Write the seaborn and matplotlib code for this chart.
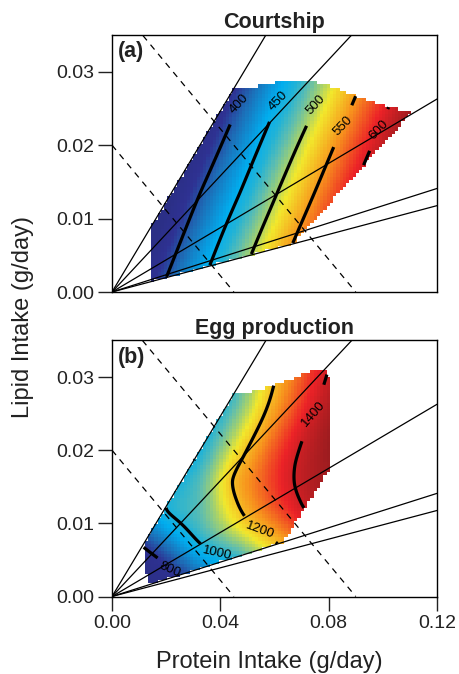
import numpy as np
import pandas as pd
import matplotlib
matplotlib.use("Agg")
import matplotlib.pyplot as plt
import seaborn as sns
from matplotlib.path import Path
from matplotlib.colors import LinearSegmentedColormap, Normalize

# ---------------- values ----------------
x_ticks = [0.00, 0.04, 0.08, 0.12]
x_tick_labels = ["0.00", "0.04", "0.08", "0.12"]
y_ticks = [0.00, 0.01, 0.02, 0.03]
y_tick_labels = ["0.00", "0.01", "0.02", "0.03"]
x_limits = [0.0, 0.12]
y_limits = [0.0, 0.035]

panel_titles = ["Courtship", "Egg production"]
panel_tags = ["(a)", "(b)"]
x_label = "Protein Intake (g/day)"
y_label = "Lipid Intake (g/day)"

# diet rails (lipid : protein ratio) and isocaloric lines (kcal/day)
rail_slopes = [0.616, 0.3955, 0.219, 0.1175, 0.098]
iso_kcal = [0.18, 0.36]
kcal_protein = 4.0
kcal_lipid = 9.0

# (a) Courtship: readings of the surface (contour crossings + colour readings)
court_levels = [400, 450, 500, 550, 600]
court_obs_level = [400, 400, 400, 450, 450, 450, 500, 500, 500,
                   550, 550, 550, 600, 600, 368, 630]
court_obs_protein = [0.0202, 0.0325, 0.0448, 0.0362, 0.0473, 0.0596, 0.0516, 0.0620, 0.0737,
                     0.0670, 0.0743, 0.0830, 0.0928, 0.1020, 0.0140, 0.1105]
court_obs_lipid = [0.0021, 0.0135, 0.0238, 0.0037, 0.0135, 0.0245, 0.0053, 0.0144, 0.0240,
                   0.0069, 0.0131, 0.0208, 0.0172, 0.0252, 0.0050, 0.0245]
court_hull_protein = [0.0140, 0.0140, 0.0448, 0.0510, 0.0600, 0.0682, 0.0780, 0.0891, 0.1014, 0.1107, 0.0670]
court_hull_lipid = [0.0014, 0.0086, 0.0276, 0.0278, 0.0285, 0.0288, 0.0284, 0.0268, 0.0253, 0.0245, 0.0066]
court_label_protein = [0.0473, 0.0614, 0.0750, 0.0848, 0.0983]
court_label_lipid = [0.0254, 0.0261, 0.0256, 0.0229, 0.0222]
court_range = [365, 632]

# (b) Egg production
egg_levels = [800, 1000, 1200, 1400]
egg_obs_level = [800, 800, 800,
                 1000, 1000, 1000, 1000,
                 1200, 1200, 1200, 1200, 1200, 1200, 1200,
                 1400, 1400, 1400, 1400, 1400, 1400, 1400,
                 750, 1040, 1030, 1465, 1300, 1300, 1050]
egg_obs_protein = [0.0116, 0.0175, 0.0263,
                   0.0196, 0.0325, 0.0387, 0.0454,
                   0.0596, 0.0485, 0.0442, 0.0460, 0.0497, 0.0546, 0.0620,
                   0.0793, 0.0743, 0.0706, 0.0676, 0.0673, 0.0694, 0.0712,
                   0.0130, 0.0450, 0.0340, 0.0805, 0.0650, 0.0560, 0.0325]
egg_obs_lipid = [0.0068, 0.0052, 0.0021,
                 0.0118, 0.0072, 0.0058, 0.0049,
                 0.0287, 0.0191, 0.0159, 0.0132, 0.0106, 0.0090, 0.0070,
                 0.0303, 0.0250, 0.0218, 0.0182, 0.0154, 0.0132, 0.0118,
                 0.0020, 0.0270, 0.0186, 0.0175, 0.0250, 0.0150, 0.0132]
egg_hull_protein = [0.0134, 0.0116, 0.0116, 0.0448, 0.0534, 0.0620, 0.0719, 0.0785, 0.0800, 0.0805, 0.0706, 0.0632]
egg_hull_lipid = [0.0016, 0.0049, 0.0071, 0.0276, 0.0282, 0.0291, 0.0306, 0.0312, 0.0300, 0.0175, 0.0118, 0.0074]
egg_label_protein = [0.0214, 0.0387, 0.0546, 0.0743]
egg_label_lipid = [0.0040, 0.0058, 0.0090, 0.0250]
egg_range = [740, 1470]

surface_colors = ["#2b2f86", "#2e3192", "#1d6db6", "#00aeef", "#23b3d6",
                  "#5dbdb0", "#a8d26a", "#f2e82c", "#f7941d", "#ec2227", "#9b1c1f"]
surface_stops = [0.0, 0.08, 0.17, 0.30, 0.37, 0.43, 0.50, 0.56, 0.70, 0.85, 1.0]

# ---------------- style ----------------
sns.set_theme(style="ticks")
plt.rcParams["font.family"] = ["Liberation Sans", "DejaVu Sans"]
plt.rcParams["axes.linewidth"] = 1.0

cmap = LinearSegmentedColormap.from_list("surf", list(zip(surface_stops, surface_colors)))


def to_plane(x, y):
    # isotropic coordinates on the page (units of 100 px)
    return np.asarray(x) / 0.12 * 3.25, np.asarray(y) / 0.035 * 2.56


def tps_kernel(r):
    with np.errstate(divide="ignore", invalid="ignore"):
        k = r * r * np.log(r)
    return np.where(r > 0, k, 0.0)


def fit_surface(px, py, val, smooth):
    u, v = to_plane(px, py)
    n = len(u)
    r = np.hypot(u[:, None] - u[None, :], v[:, None] - v[None, :])
    K = tps_kernel(r) + smooth * np.eye(n)
    P = np.column_stack([np.ones(n), u, v])
    A = np.zeros((n + 3, n + 3))
    A[:n, :n] = K
    A[:n, n:] = P
    A[n:, :n] = P.T
    b = np.concatenate([np.asarray(val, float), np.zeros(3)])
    sol = np.linalg.solve(A, b)
    w, a = sol[:n], sol[n:]

    def surf(X, Y):
        U, V = to_plane(X, Y)
        rr = np.hypot(U[..., None] - u, V[..., None] - v)
        return tps_kernel(rr) @ w + a[0] + a[1] * U + a[2] * V
    return surf


def draw_panel(ax, title, tag, surf, hull_x, hull_y, levels, lab_x, lab_y, vrange, show_x):
    hull = Path(np.column_stack([hull_x, hull_y]))
    norm = Normalize(vmin=vrange[0], vmax=vrange[1])

    xe = np.linspace(x_limits[0], x_limits[1], 101)
    ye = np.linspace(y_limits[0], y_limits[1], 79)
    xm, ym = np.meshgrid((xe[:-1] + xe[1:]) / 2, (ye[:-1] + ye[1:]) / 2)
    inside = hull.contains_points(np.column_stack([xm.ravel(), ym.ravel()])).reshape(xm.shape)
    Z = np.ma.array(surf(xm, ym), mask=~inside)
    ax.pcolormesh(xe, ye, Z, cmap=cmap, norm=norm, shading="flat",
                  antialiased=False, edgecolors="none", zorder=1, rasterized=True)

    rails = pd.DataFrame({
        "protein": np.repeat([0.0, x_limits[1]], len(rail_slopes)),
        "lipid": np.concatenate([np.zeros(len(rail_slopes)), x_limits[1] * np.array(rail_slopes)]),
        "rail": np.tile(np.arange(len(rail_slopes)), 2),
    })
    sns.lineplot(data=rails, x="protein", y="lipid", units="rail", estimator=None,
                 color="black", lw=0.9, ax=ax, legend=False, zorder=2)
    iso = pd.DataFrame({
        "protein": np.concatenate([np.array(iso_kcal) / kcal_protein, np.zeros(len(iso_kcal))]),
        "lipid": np.concatenate([np.zeros(len(iso_kcal)), np.array(iso_kcal) / kcal_lipid]),
        "line": np.tile(np.arange(len(iso_kcal)), 2),
    })
    sns.lineplot(data=iso, x="protein", y="lipid", units="line", estimator=None,
                 color="black", lw=0.9, linestyle=(0, (5, 4.5)), ax=ax, legend=False, zorder=2)

    xc = np.linspace(x_limits[0], x_limits[1], 361)
    yc = np.linspace(y_limits[0], y_limits[1], 211)
    Xc, Yc = np.meshgrid(xc, yc)
    ins = hull.contains_points(np.column_stack([Xc.ravel(), Yc.ravel()])).reshape(Xc.shape)
    Zc = np.ma.array(surf(Xc, Yc), mask=~ins)
    cs = ax.contour(Xc, Yc, Zc, levels=levels, colors="black", linewidths=2.3, zorder=3)
    ax.clabel(cs, levels, inline=True, fmt="%d", fontsize=9.5, inline_spacing=2,
              manual=list(zip(lab_x, lab_y)))

    ax.set_xlim(*x_limits)
    ax.set_ylim(*y_limits)
    ax.set_xticks(x_ticks)
    ax.set_yticks(y_ticks)
    ax.set_yticklabels(y_tick_labels)
    if show_x:
        ax.set_xticklabels(x_tick_labels)
    else:
        ax.set_xticklabels([])
        ax.tick_params(axis="x", bottom=False, labelbottom=False)
    ax.set_xlabel("")
    ax.set_ylabel("")
    ax.tick_params(direction="out", length=10, width=1.0, labelsize=14,
                   colors="#222222", pad=3)
    for sp in ax.spines.values():
        sp.set_color("black")
        sp.set_linewidth(1.0)
        sp.set_visible(True)
    ax.set_title(title, fontsize=15.5, fontweight="bold", pad=5, color="#222222")
    ax.text(0.018, 0.975, tag, transform=ax.transAxes, ha="left", va="top",
            fontsize=15.5, fontweight="bold", color="#222222", zorder=5)


fig = plt.figure(figsize=(4.59, 6.74), dpi=100)
ax_a = fig.add_axes([112 / 459, 1 - 292 / 674, 325 / 459, 257 / 674])
ax_b = fig.add_axes([112 / 459, 1 - 596.5 / 674, 325 / 459, 256 / 674])

court_surf = fit_surface(court_obs_protein, court_obs_lipid, court_obs_level, 0.05)
egg_surf = fit_surface(egg_obs_protein, egg_obs_lipid, egg_obs_level, 0.01)

draw_panel(ax_a, panel_titles[0], panel_tags[0], court_surf, court_hull_protein, court_hull_lipid,
           court_levels, court_label_protein, court_label_lipid, court_range, False)
draw_panel(ax_b, panel_titles[1], panel_tags[1], egg_surf, egg_hull_protein, egg_hull_lipid,
           egg_levels, egg_label_protein, egg_label_lipid, egg_range, True)

fig.text(269 / 459, 1 - 668 / 674, x_label, ha="center", va="baseline", fontsize=17, color="#222222")
fig.text(23 / 459, 1 - 317 / 674, y_label, ha="center", va="center", rotation=90,
         fontsize=17, color="#222222")

fig.savefig("out.png", dpi=100)
